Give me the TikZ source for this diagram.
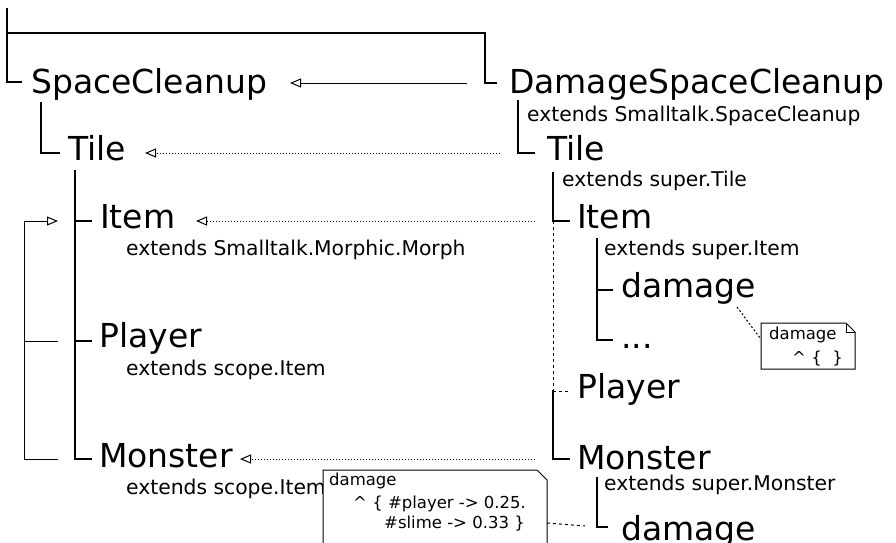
\documentclass[tikz,border=0pt]{standalone}
\usepackage{fontspec}
\setmainfont{DejaVu Sans}
\usetikzlibrary{arrows.meta}
\begin{document}
\begin{tikzpicture}[x=1pt,y=-1pt,
  big/.style={font=\fontsize{33}{40}\selectfont, anchor=base west, inner sep=0pt},
  small/.style={font=\fontsize{20.3}{24}\selectfont, anchor=base west, inner sep=0pt},
  notetext/.style={font=\fontsize{16.5}{20}\selectfont, anchor=base west, inner sep=0pt},
  tree/.style={line width=1.3pt},
  inherit/.style={line width=1pt, -{Triangle[open,length=11pt,width=9pt,line width=1pt]}},
  dotarrow/.style={inherit, dash pattern=on 1pt off 2pt},
  dashline/.style={line width=1pt, dash pattern=on 3pt off 3pt},
  finedash/.style={line width=1pt, dash pattern=on 2pt off 2pt},
  notebox/.style={line width=1pt, fill=white}]
\useasboundingbox (0,0) rectangle (896,542);
\clip (0,0) rectangle (896,542);

% ---------- left module ----------
\node[big] (sc) at (31,93) {SpaceCleanup};
\node[big] (tileL) at (68,160) {Tile};
\node[big] (itemL) at (100,228) {Item};
\node[small] (itemLx) at (126,255) {extends Smalltalk.Morphic.Morph};
\node[big] (playerL) at (99,347) {Player};
\node[small] (playerLx) at (126,375) {extends scope.Item};
\node[big] (monsterL) at (99,467) {Monster};
\node[small] (monsterLx) at (126,494) {extends scope.Item};

% ---------- right module ----------
\node[big] (dsc) at (509,93) {DamageSpaceCleanup};
\node[small] (dscx) at (527,121) {extends Smalltalk.SpaceCleanup};
\node[big] (tileR) at (547,160) {Tile};
\node[small] (tileRx) at (562,186) {extends super.Tile};
\node[big] (itemR) at (577,228) {Item};
\node[small] (itemRx) at (604,255) {extends super.Item};
\node[big] (dmgA) at (621,297) {damage};
\node[big] (dots) at (621,348) {...};
\node[big] (playerR) at (577,398) {Player};
\node[big] (monsterR) at (577,469) {Monster};
\node[small] (monsterRx) at (604,490) {extends super.Monster};
\node[big] (dmgB) at (621,540) {damage};

% ---------- tree lines ----------
\coordinate (root) at (7,8);
\draw[tree] (root) -- (7,82) -- (22,82);
\draw[tree] (7,33) -- (485,33) -- (485,83) -- (497,83);
\draw[tree] (41,102) -- (41,153) -- (60,153);
\draw[tree] (75,170) -- (75,459) -- (92,459);
\draw[tree] (75,221) -- (92,221);
\draw[tree] (75,341) -- (92,341);
\draw[tree] (518,100) -- (518,153) -- (535,153);
\draw[tree] (553,172) -- (553,221) -- (570,221);
\draw[dashline] (553,221) -- (553,390);
\draw[dashline] (553,391) -- (570,391);
\draw[tree] (553,390) -- (553,459) -- (570,459);
\draw[tree] (597,238) -- (597,340) -- (613,340);
\draw[tree] (597,290) -- (613,290);
\draw[tree] (597,477) -- (597,527) -- (608,527);

% ---------- inheritance links ----------
\draw[inherit] (467,83) -- (290,83);
\draw[dotarrow] (500,153) -- (145,153);
\draw[dotarrow] (535,221) -- (196,221);
\draw[dotarrow] (535,459) -- (240,459);
\draw[line width=1pt] (58,341) -- (24,341);
\draw[inherit] (58,459) -- (24,459) -- (24,221) -- (58,221);

% ---------- method notes ----------
\draw[notebox] (761,323) -- (846,323) -- (855,332) -- (855,369) -- (761,369) -- cycle;
\draw[line width=0.8pt] (846,323) -- (846,332) -- (855,332);
\node[notetext] (noteA1) at (769,339) {damage};
\node[notetext] (noteA2) at (792,363) {\^{} \{\ \ \}};
\draw[finedash] (737,307) -- (760,338);

\draw[notebox] (323,560) -- (323,470) -- (537,470) -- (547,480) -- (547,560);
\node[notetext] (noteB1) at (329,485) {damage};
\node[notetext] (noteB2) at (353,508) {\^{} \{ \#player -> 0.25.};
\node[notetext] (noteB3) at (384,528) {\#slime -> 0.33 \}};
\draw[dashline] (547,523) -- (585,526);
\end{tikzpicture}
\end{document}
